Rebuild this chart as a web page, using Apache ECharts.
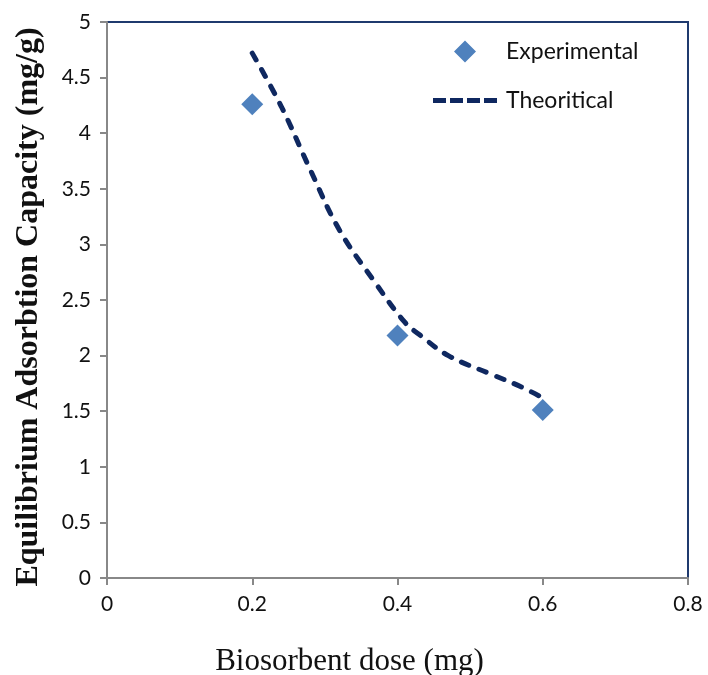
<!DOCTYPE html>
<html>
<head>
<meta charset="utf-8">
<script src="https://cdn.jsdelivr.net/npm/echarts@6/dist/echarts.min.js"></script>
<style>
  html, body { margin: 0; padding: 0; background: #fff; }
  #chart { width: 708px; height: 675px; }
</style>
</head>
<body>
<div id="chart"></div>
<script>
// experimental points
const expDose = [0.2, 0.4, 0.6]
const expQe = [4.26, 2.18, 1.51]
// theoretical curve
const theoDose = [0.2, 0.24, 0.28, 0.32, 0.37, 0.41, 0.43, 0.47, 0.53, 0.57, 0.6]
const theoQe = [4.72, 4.24, 3.67, 3.13, 2.65, 2.3, 2.19, 2.0, 1.83, 1.72, 1.62]

const labelFont = { fontFamily: 'Lato', fontSize: 21, color: '#111' }
// legend icons: diamond kept square inside a 64px wide slot, four dashes
const diamondIcon = 'path://M0,0L0,0Z M64,22L64,22Z M21,11L32,0L43,11L32,22Z'
const dashIcon = 'path://M0,0L13,0L13,5L0,5Z M17,0L30,0L30,5L17,5Z M34,0L47,0L47,5L34,5Z M51,0L64,0L64,5L51,5Z'

const chart = echarts.init(document.getElementById('chart'))
chart.setOption({
  animation: false,
  grid: {
    left: 107,
    right: 20,
    top: 22,
    bottom: 97,
    outerBoundsMode: 'none',
    show: true,
    borderColor: '#1F3A6E',
    borderWidth: 2
  },
  legend: {
    orient: 'vertical',
    left: 428,
    top: 35,
    itemWidth: 64,
    itemHeight: 22,
    itemGap: 26,
    textStyle: { fontFamily: 'Lato', fontSize: 23, color: '#111', padding: [0, 0, 0, 4] },
    data: [
      { name: 'Experimental', icon: diamondIcon },
      { name: 'Theoritical', icon: dashIcon }
    ]
  },
  xAxis: {
    type: 'value',
    min: 0,
    max: 0.8,
    interval: 0.2,
    name: 'Biosorbent dose (mg)',
    nameLocation: 'middle',
    nameGap: 68,
    nameTextStyle: { fontFamily: 'Liberation Serif', fontSize: 31, color: '#111', padding: [0, 96, 0, 0] },
    axisLine: { lineStyle: { color: '#888', width: 2 } },
    axisTick: { show: true, length: 7, lineStyle: { color: '#888', width: 2 } },
    axisLabel: { ...labelFont, margin: 16 },
    splitLine: { show: false }
  },
  yAxis: {
    type: 'value',
    min: 0,
    max: 5,
    interval: 0.5,
    name: 'Equilibrium Adsorbtion Capacity (mg/g)',
    nameLocation: 'middle',
    nameGap: 62,
    nameTextStyle: { fontFamily: 'Liberation Serif', fontSize: 32, fontWeight: 'bold', color: '#111', padding: [0, 14, 0, 0] },
    axisLine: { show: true, lineStyle: { color: '#888', width: 2 } },
    axisTick: { show: true, length: 7, lineStyle: { color: '#888', width: 2 } },
    axisLabel: { ...labelFont, margin: 16 },
    splitLine: { show: false }
  },
  series: [
    {
      name: 'Experimental',
      type: 'scatter',
      symbol: 'diamond',
      symbolSize: 22,
      itemStyle: { color: '#4F81BD', opacity: 1 },
      data: expDose.map((d, i) => [d, expQe[i]])
    },
    {
      name: 'Theoritical',
      type: 'line',
      smooth: 0.4,
      showSymbol: false,
      symbol: 'none',
      lineStyle: { color: '#0F2860', width: 5, type: [8, 11], cap: 'round' },
      itemStyle: { color: '#0F2860' },
      data: theoDose.map((d, i) => [d, theoQe[i]])
    }
  ]
})
</script>
</body>
</html>
